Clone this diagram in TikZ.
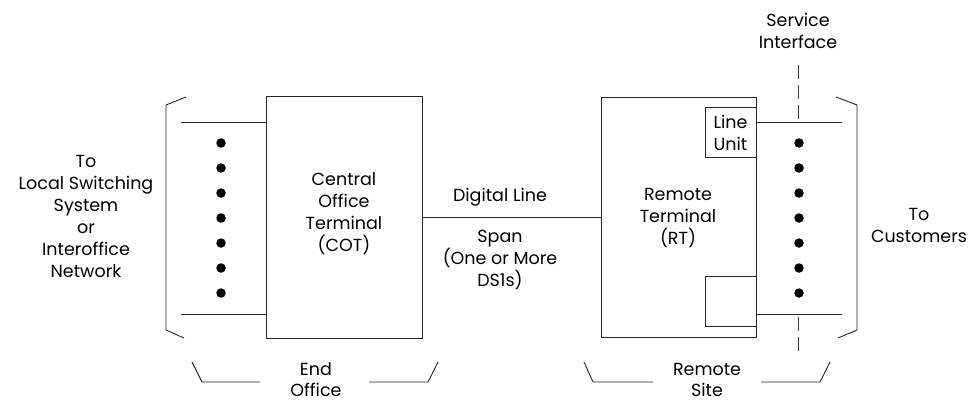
\documentclass[tikz,border=0pt]{standalone}
\usepackage{fontspec}
\setmainfont{Poppins}
\begin{document}
\begin{tikzpicture}[x=1pt,y=-1pt,
  ln/.style={draw=black!85,line width=0.9pt},
  boxnode/.style={draw=black!85,line width=0.9pt,inner sep=0pt,outer sep=0pt},
  lbl/.style={align=center,inner sep=0pt,font=\fontsize{17.5}{22}\selectfont},
  dot/.style={circle,fill=black,inner sep=0pt,minimum size=9.5pt},
  dsh/.style={draw=black!75,line width=0.9pt,dash pattern=on 14pt off 6pt}]
\useasboundingbox (0,0) rectangle (970,402);
% main boxes
\node[boxnode,minimum width=156pt,minimum height=242pt] (cot) at (344,217) {};
\node[boxnode,minimum width=155pt,minimum height=240pt] (rt) at (678.5,217) {};
\node[boxnode,minimum width=51pt,minimum height=50pt] (lu) at (730.5,132) {};
\node[boxnode,minimum width=51pt,minimum height=50pt] (lb) at (730.5,301) {};
% texts
\node[lbl] (cott) at (344,214) {Central\\Office\\Terminal\\(COT)};
\node[lbl] (rtt) at (678,218) {Remote\\Terminal\\(RT)};
\node[lbl] (lut) at (730.5,133) {Line\\Unit};
\node[lbl] (left) at (86,216) {To\\Local Switching\\System\\or\\Interoffice\\Network};
\node[lbl] (cust) at (919,225) {To\\Customers};
\node[lbl] (svc) at (798,31) {Service\\Interface};
\node[lbl] (dl) at (500,197) {Digital Line};
\node[lbl] (span) at (500,260) {Span\\(One or More\\DS1s)};
\node[lbl,font=\fontsize{17.5}{21}\selectfont] (eo) at (316,380) {End\\Office};
\node[lbl,font=\fontsize{17.5}{21}\selectfont] (rs) at (707,380) {Remote\\Site};
% digital line
\draw[ln] (cot.east) -- (rt.west);
% left side lines
\coordinate (l1) at (181,122);
\coordinate (l2) at (181,314);
\draw[ln] (l1) -- (cot.west |- l1);
\draw[ln] (l2) -- (cot.west |- l2);
% right side lines
\coordinate (r1) at (842,122);
\coordinate (r2) at (842,314);
\draw[ln] (rt.east |- r1) -- (r1);
\draw[ln] (rt.east |- r2) -- (r2);
% dots
\foreach \i [count=\k] in {143,168,193,218,243,268,293} {
  \node[dot] (ld\k) at (221,\i) {};
  \node[dot] (rd\k) at (799,\i) {};
}
% service interface dashed line
\coordinate (s1) at (798,65);
\coordinate (s2) at (798,122);
\coordinate (s3) at (798,317);
\coordinate (s4) at (798,352);
\draw[dsh] (s1) -- (s2);
\draw[dsh] (s3) -- (s4);
% left bracket
\draw[ln] (186,97) -- (166,105) -- (166,330) -- (184,338);
% right bracket
\draw[ln] (836,97) -- (857,105) -- (857,330) -- (838,338);
% End Office brace
\draw[ln] (192,362) -- (202,382) -- (260,382);
\draw[ln] (369,382) -- (428,382) -- (438,362);
% Remote Site brace
\draw[ln] (584,362) -- (593,382) -- (653,382);
\draw[ln] (761,382) -- (820,382) -- (830,362);
\end{tikzpicture}
\end{document}
